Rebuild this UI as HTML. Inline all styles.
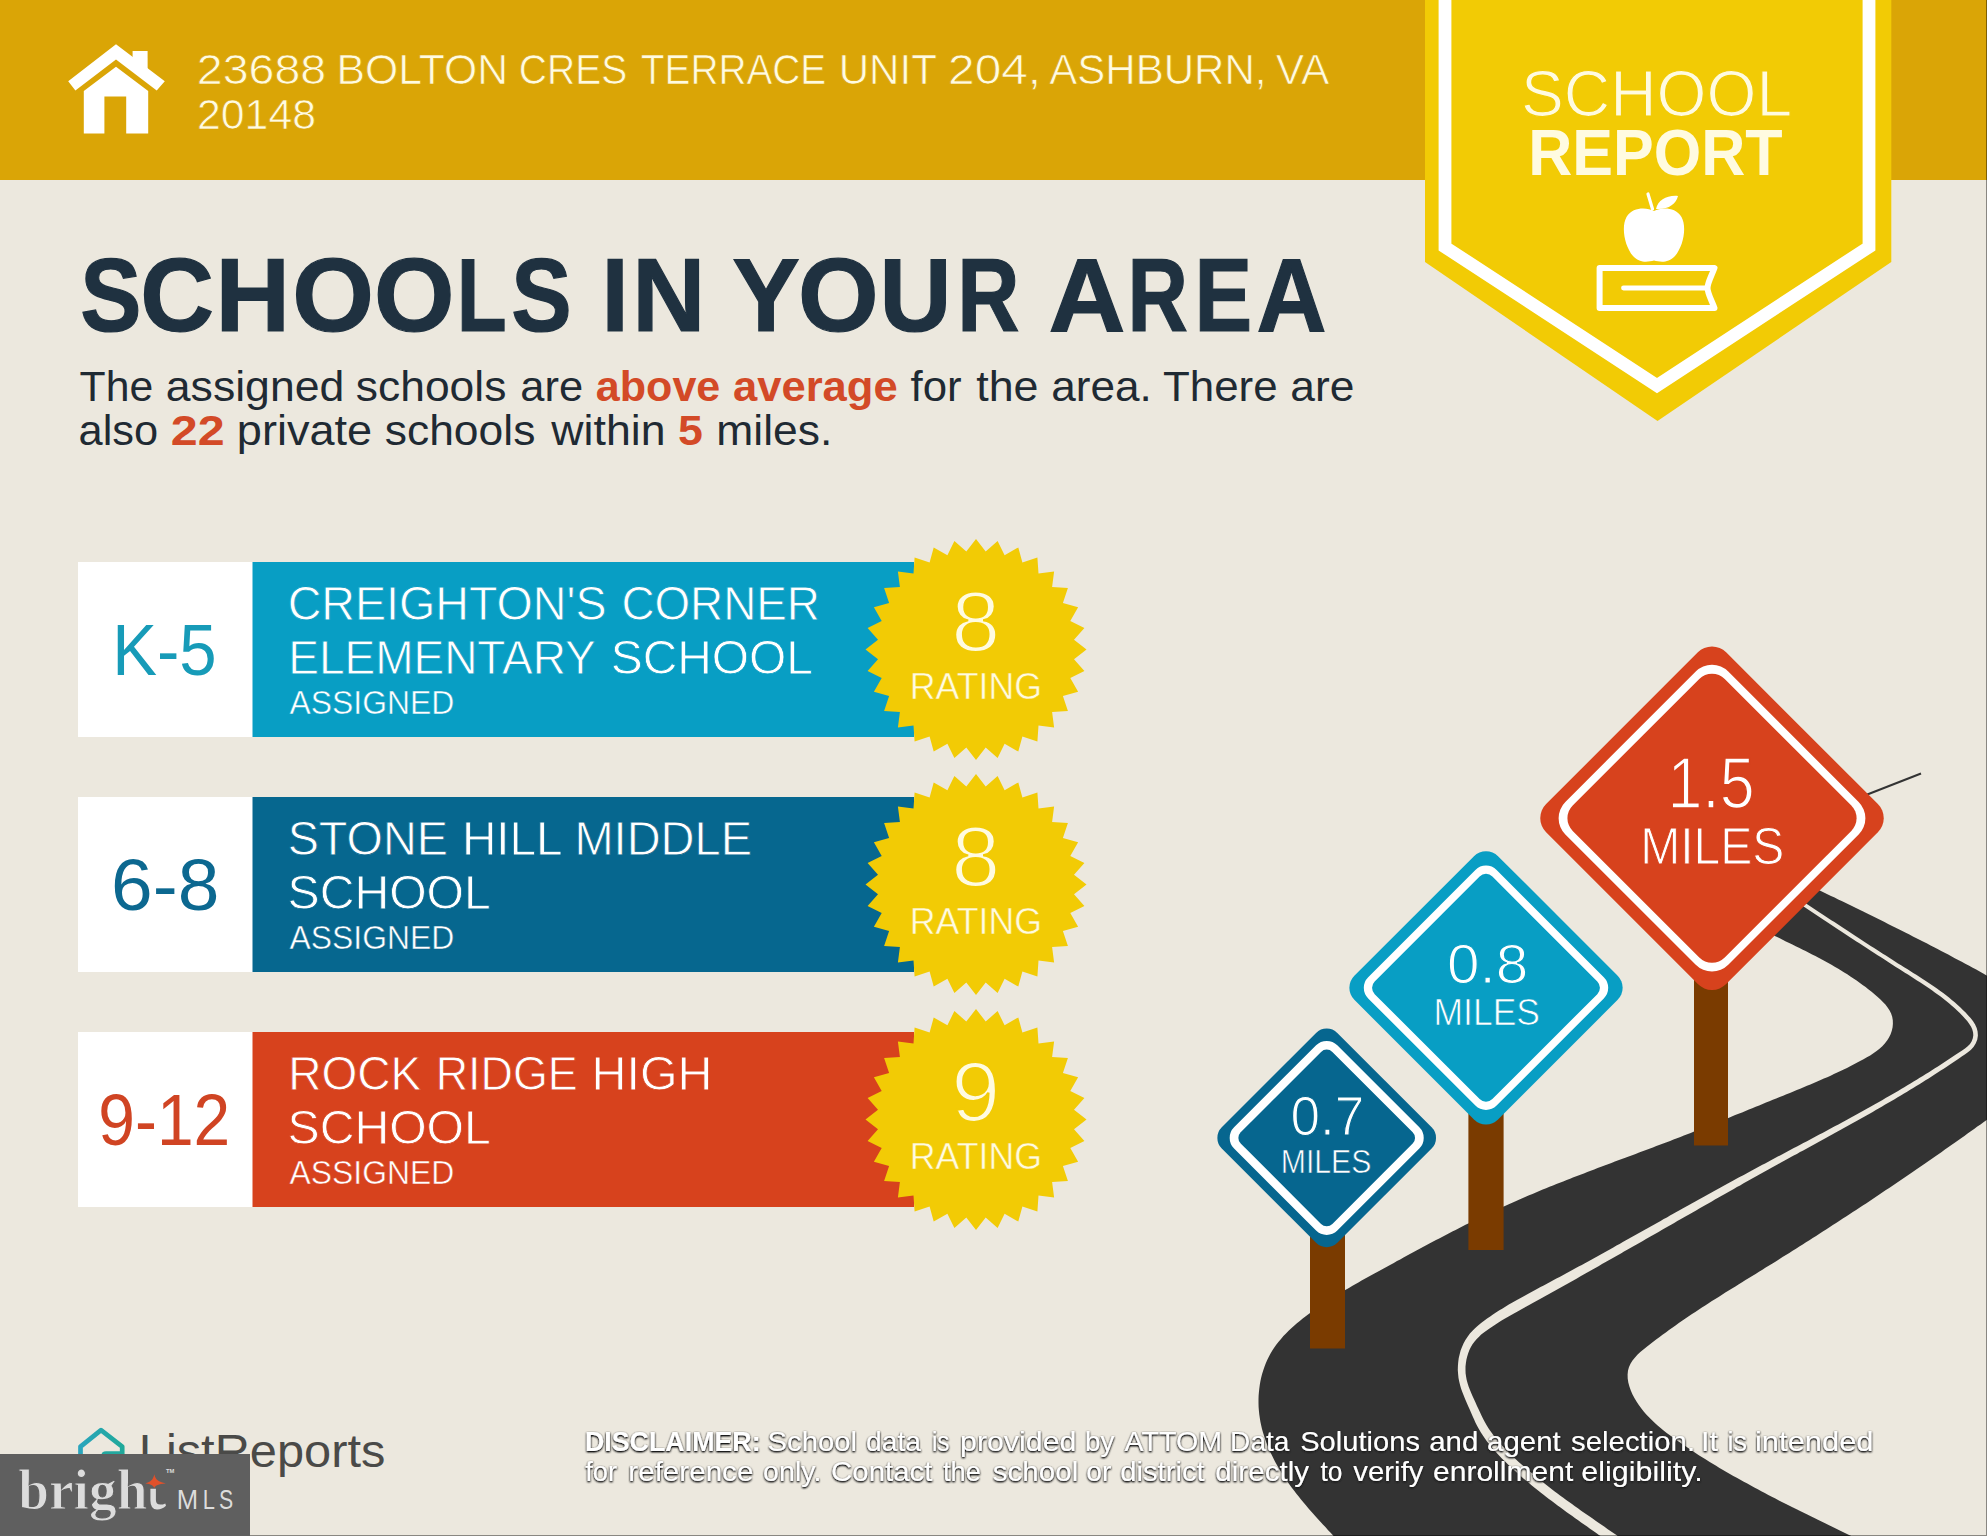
<!DOCTYPE html>
<html>
<head>
<meta charset="utf-8">
<title>School Report</title>
<style>
html,body{margin:0;padding:0;background:#ECE8DE;}
body{width:1987px;height:1536px;overflow:hidden;position:relative;font-family:"Liberation Sans",sans-serif;}
svg{position:absolute;left:0;top:0;display:block;}
text{font-family:"Liberation Sans",sans-serif;}
.serif{font-family:"Liberation Serif",serif;}
</style>
</head>
<body>
<svg width="1987" height="1536" viewBox="0 0 1987 1536">
<defs>
  <filter id="sh" x="-3%" y="-40%" width="106%" height="180%">
    <feGaussianBlur in="SourceAlpha" stdDeviation="1.25" result="b"/>
    <feOffset in="b" dx="0.4" dy="0.6" result="o"/>
    <feComponentTransfer in="o" result="g"><feFuncA type="linear" slope="1.55"/></feComponentTransfer>
    <feFlood flood-color="#1c1c1c" result="c"/>
    <feComposite in="c" in2="g" operator="in" result="s"/>
    <feMerge><feMergeNode in="s"/><feMergeNode in="SourceGraphic"/></feMerge>
  </filter>
  <linearGradient id="lrg" gradientUnits="userSpaceOnUse" x1="78" y1="0" x2="125" y2="0"><stop offset="0" stop-color="#2BA5BE"/><stop offset="1" stop-color="#1FA998"/></linearGradient>
</defs>

<!-- background -->
<rect x="0" y="0" width="1987" height="1536" fill="#ECE8DE"/>

<!-- header band -->
<rect x="0" y="0" width="1987" height="180" fill="#DAA506"/>

<!-- house icon -->
<g fill="#ffffff">
  <polygon points="116,44.2 164.8,81.2 156.7,90.5 116,59.5 75.4,90.5 68.2,81.2"/>
  <polygon points="132.6,51 147.6,51 147.6,70 132.6,58"/>
  <path d="M116,66.7 L148.2,91 L148.2,133.5 L126.2,133.5 L126.2,96.5 L104.4,96.5 L104.4,133.5 L83.8,133.5 L83.8,91 Z"/>
</g>


<!-- banner -->
<polygon points="1425,0 1891.3,0 1891.3,262 1657.5,421 1425,262" fill="#F2CB05"/>
<polyline points="1445,-10 1445,247 1657,385.5 1869,247 1869,-10" fill="none" stroke="#ffffff" stroke-width="12.8" stroke-linejoin="miter"/>
<!-- apple + book -->
<g fill="#ffffff" stroke="none">
  <path d="M1654,211 C1647,207.5 1633,206.5 1626.5,217 C1621,227 1624.5,246 1633,256 C1640,263.5 1648,262 1654,260.5 C1660,262 1668,263.5 1675,256 C1683.5,246 1687,227 1681.5,217 C1675,206.5 1661,207.5 1654,211 Z"/>
  <path d="M1656,209 C1658,200 1667,195 1678,196 C1676,204 1668,210 1656,209 Z"/>
</g>
<g fill="none" stroke="#ffffff">
  <path d="M1648,194 L1652.5,209" stroke-width="3.2" stroke-linecap="round"/>
  <path d="M1714.5,268 L1599.6,268 L1599.6,308 L1714.5,308 C1711,299 1707.5,293 1707.5,288 C1707.5,283 1711,277 1714.5,268 Z" stroke-width="6" stroke-linejoin="round"/>
  <path d="M1623.5,288 L1707,288" stroke-width="4.8" stroke-linecap="round"/>
</g>



<!-- cards -->
<g>
  <rect x="78" y="562" width="175" height="175" fill="#ffffff"/>
  <rect x="252.5" y="562" width="661.5" height="175" fill="#089EC4"/>
  <rect x="78" y="797" width="175" height="175" fill="#ffffff"/>
  <rect x="252.5" y="797" width="661.5" height="175" fill="#06678F"/>
  <rect x="78" y="1032" width="175" height="175" fill="#ffffff"/>
  <rect x="252.5" y="1032" width="661.5" height="175" fill="#D7421D"/>
</g>

<!-- rating badges -->
<polygon transform="translate(976,649.5)" points="110.5,0.0 98.0,9.7 108.4,21.6 94.3,28.6 102.1,42.3 86.9,46.4 91.9,61.4 76.1,62.5 78.1,78.1 62.5,76.1 61.4,91.9 46.4,86.9 42.3,102.1 28.6,94.3 21.6,108.4 9.7,98.0 0.0,110.5 -9.7,98.0 -21.6,108.4 -28.6,94.3 -42.3,102.1 -46.4,86.9 -61.4,91.9 -62.5,76.1 -78.1,78.1 -76.1,62.5 -91.9,61.4 -86.9,46.4 -102.1,42.3 -94.3,28.6 -108.4,21.6 -98.0,9.7 -110.5,0.0 -98.0,-9.7 -108.4,-21.6 -94.3,-28.6 -102.1,-42.3 -86.9,-46.4 -91.9,-61.4 -76.1,-62.5 -78.1,-78.1 -62.5,-76.1 -61.4,-91.9 -46.4,-86.9 -42.3,-102.1 -28.6,-94.3 -21.6,-108.4 -9.7,-98.0 -0.0,-110.5 9.7,-98.0 21.6,-108.4 28.6,-94.3 42.3,-102.1 46.4,-86.9 61.4,-91.9 62.5,-76.1 78.1,-78.1 76.1,-62.5 91.9,-61.4 86.9,-46.4 102.1,-42.3 94.3,-28.6 108.4,-21.6 98.0,-9.7" fill="#F2CB05"/>
<polygon transform="translate(976,884.5)" points="110.5,0.0 98.0,9.7 108.4,21.6 94.3,28.6 102.1,42.3 86.9,46.4 91.9,61.4 76.1,62.5 78.1,78.1 62.5,76.1 61.4,91.9 46.4,86.9 42.3,102.1 28.6,94.3 21.6,108.4 9.7,98.0 0.0,110.5 -9.7,98.0 -21.6,108.4 -28.6,94.3 -42.3,102.1 -46.4,86.9 -61.4,91.9 -62.5,76.1 -78.1,78.1 -76.1,62.5 -91.9,61.4 -86.9,46.4 -102.1,42.3 -94.3,28.6 -108.4,21.6 -98.0,9.7 -110.5,0.0 -98.0,-9.7 -108.4,-21.6 -94.3,-28.6 -102.1,-42.3 -86.9,-46.4 -91.9,-61.4 -76.1,-62.5 -78.1,-78.1 -62.5,-76.1 -61.4,-91.9 -46.4,-86.9 -42.3,-102.1 -28.6,-94.3 -21.6,-108.4 -9.7,-98.0 -0.0,-110.5 9.7,-98.0 21.6,-108.4 28.6,-94.3 42.3,-102.1 46.4,-86.9 61.4,-91.9 62.5,-76.1 78.1,-78.1 76.1,-62.5 91.9,-61.4 86.9,-46.4 102.1,-42.3 94.3,-28.6 108.4,-21.6 98.0,-9.7" fill="#F2CB05"/>
<polygon transform="translate(976,1119.5)" points="110.5,0.0 98.0,9.7 108.4,21.6 94.3,28.6 102.1,42.3 86.9,46.4 91.9,61.4 76.1,62.5 78.1,78.1 62.5,76.1 61.4,91.9 46.4,86.9 42.3,102.1 28.6,94.3 21.6,108.4 9.7,98.0 0.0,110.5 -9.7,98.0 -21.6,108.4 -28.6,94.3 -42.3,102.1 -46.4,86.9 -61.4,91.9 -62.5,76.1 -78.1,78.1 -76.1,62.5 -91.9,61.4 -86.9,46.4 -102.1,42.3 -94.3,28.6 -108.4,21.6 -98.0,9.7 -110.5,0.0 -98.0,-9.7 -108.4,-21.6 -94.3,-28.6 -102.1,-42.3 -86.9,-46.4 -91.9,-61.4 -76.1,-62.5 -78.1,-78.1 -62.5,-76.1 -61.4,-91.9 -46.4,-86.9 -42.3,-102.1 -28.6,-94.3 -21.6,-108.4 -9.7,-98.0 -0.0,-110.5 9.7,-98.0 21.6,-108.4 28.6,-94.3 42.3,-102.1 46.4,-86.9 61.4,-91.9 62.5,-76.1 78.1,-78.1 76.1,-62.5 91.9,-61.4 86.9,-46.4 102.1,-42.3 94.3,-28.6 108.4,-21.6 98.0,-9.7" fill="#F2CB05"/>

<!-- road -->
<path d="M1745.0,854.8 L1748.6,856.5 L1752.2,858.2 L1755.8,859.9 L1759.3,861.6 L1762.9,863.3 L1766.5,865.0 L1770.1,866.7 L1773.7,868.4 L1777.3,870.2 L1780.9,871.9 L1784.4,873.6 L1788.0,875.3 L1791.6,877.0 L1795.2,878.7 L1798.8,880.4 L1802.4,882.1 L1805.9,883.8 L1809.5,885.6 L1813.1,887.3 L1816.7,889.0 L1820.3,890.7 L1823.9,892.4 L1827.4,894.2 L1831.0,895.9 L1834.6,897.6 L1838.2,899.4 L1841.7,901.1 L1845.3,902.8 L1848.9,904.6 L1852.5,906.3 L1856.0,908.0 L1859.6,909.8 L1863.2,911.5 L1866.7,913.3 L1870.3,915.1 L1873.9,916.8 L1877.4,918.6 L1881.0,920.3 L1884.5,922.1 L1888.1,923.9 L1891.6,925.7 L1895.2,927.4 L1898.8,929.2 L1902.3,931.0 L1905.8,932.8 L1909.4,934.6 L1912.9,936.4 L1916.5,938.2 L1920.0,940.0 L1923.5,941.8 L1927.1,943.6 L1930.6,945.5 L1934.1,947.3 L1937.6,949.1 L1941.2,951.0 L1944.7,952.8 L1948.2,954.6 L1951.7,956.5 L1955.2,958.4 L1958.7,960.2 L1962.2,962.1 L1965.7,964.0 L1969.2,965.8 L1972.7,967.7 L1976.2,969.6 L1979.7,971.5 L1983.2,973.4 L1986.6,975.4 L1990.1,977.3 L1993.5,979.3 L1997.0,981.2 L2000.4,983.2 L2003.9,985.2 L2007.3,987.3 L2010.7,989.3 L2014.1,991.4 L2017.4,993.5 L2020.8,995.6 L2024.1,997.8 L2027.5,1000.0 L2030.7,1002.3 L2033.9,1004.6 L2037.1,1007.1 L2040.1,1009.6 L2043.1,1012.3 L2045.9,1015.2 L2048.7,1018.2 L2051.3,1021.4 L2053.7,1024.8 L2055.9,1028.3 L2057.9,1031.9 L2059.5,1035.6 L2060.7,1039.4 L2061.5,1043.3 L2061.8,1047.1 L2061.6,1050.9 L2060.8,1054.7 L2059.6,1058.4 L2057.9,1062.0 L2056.0,1065.6 L2053.7,1069.0 L2051.1,1072.3 L2048.4,1075.5 L2045.5,1078.4 L2042.5,1081.2 L2039.5,1083.9 L2036.3,1086.4 L2033.1,1088.8 L2029.9,1091.1 L2026.6,1093.3 L2023.2,1095.5 L2019.9,1097.7 L2016.6,1099.8 L2013.2,1102.0 L2009.9,1104.1 L2006.6,1106.3 L2003.3,1108.5 L2000.0,1110.8 L1996.8,1113.0 L1993.5,1115.3 L1990.2,1117.5 L1987.0,1119.8 L1983.8,1122.1 L1980.5,1124.4 L1977.3,1126.6 L1974.1,1128.9 L1970.8,1131.2 L1967.6,1133.6 L1964.4,1135.9 L1961.1,1138.2 L1957.9,1140.5 L1954.7,1142.8 L1951.4,1145.0 L1948.2,1147.3 L1944.9,1149.6 L1941.7,1151.9 L1938.4,1154.2 L1935.1,1156.5 L1931.9,1158.7 L1928.6,1161.0 L1925.4,1163.3 L1922.1,1165.5 L1918.8,1167.8 L1915.5,1170.0 L1912.3,1172.3 L1909.0,1174.5 L1905.7,1176.8 L1902.4,1179.0 L1899.1,1181.2 L1895.8,1183.5 L1892.5,1185.7 L1889.2,1187.9 L1885.9,1190.1 L1882.6,1192.3 L1879.3,1194.6 L1876.0,1196.8 L1872.7,1199.0 L1869.4,1201.2 L1866.1,1203.4 L1862.8,1205.6 L1859.4,1207.8 L1856.1,1209.9 L1852.8,1212.1 L1849.5,1214.3 L1846.1,1216.5 L1842.8,1218.6 L1839.5,1220.8 L1836.1,1223.0 L1832.8,1225.1 L1829.5,1227.3 L1826.1,1229.5 L1822.8,1231.6 L1819.4,1233.8 L1816.1,1235.9 L1812.7,1238.0 L1809.4,1240.2 L1806.0,1242.3 L1802.7,1244.4 L1799.3,1246.6 L1796.0,1248.7 L1792.6,1250.8 L1789.3,1252.9 L1785.9,1255.0 L1782.5,1257.1 L1779.2,1259.3 L1775.8,1261.4 L1772.5,1263.5 L1769.1,1265.5 L1765.7,1267.6 L1762.4,1269.7 L1759.0,1271.8 L1755.6,1273.9 L1752.2,1276.0 L1748.9,1278.0 L1745.5,1280.1 L1742.1,1282.2 L1738.8,1284.3 L1735.4,1286.4 L1732.0,1288.5 L1728.7,1290.6 L1725.3,1292.6 L1722.0,1294.8 L1718.6,1296.9 L1715.3,1299.0 L1711.9,1301.1 L1708.6,1303.2 L1705.2,1305.4 L1701.9,1307.6 L1698.6,1309.7 L1695.3,1311.9 L1692.0,1314.1 L1688.7,1316.3 L1685.4,1318.6 L1682.1,1320.8 L1678.8,1323.1 L1675.5,1325.4 L1672.3,1327.7 L1669.0,1330.0 L1665.8,1332.4 L1662.5,1334.8 L1659.3,1337.2 L1656.1,1339.6 L1652.9,1342.0 L1649.7,1344.5 L1646.5,1347.0 L1643.4,1349.5 L1640.3,1352.1 L1637.4,1354.8 L1634.8,1357.7 L1632.5,1360.6 L1630.5,1363.7 L1629.0,1367.1 L1628.0,1370.6 L1627.6,1374.4 L1627.7,1378.4 L1628.3,1382.4 L1629.4,1386.5 L1630.8,1390.4 L1632.4,1394.3 L1634.4,1398.0 L1636.5,1401.6 L1638.8,1405.0 L1641.2,1408.3 L1643.7,1411.4 L1646.3,1414.4 L1649.0,1417.3 L1651.8,1420.1 L1654.6,1422.8 L1657.6,1425.4 L1660.6,1428.0 L1663.6,1430.4 L1666.7,1432.9 L1669.9,1435.2 L1673.0,1437.5 L1676.2,1439.9 L1679.4,1442.1 L1682.7,1444.4 L1686.0,1446.6 L1689.2,1448.8 L1692.5,1451.0 L1695.9,1453.2 L1699.2,1455.4 L1702.6,1457.5 L1705.9,1459.6 L1709.3,1461.7 L1712.7,1463.8 L1716.1,1465.8 L1719.5,1467.9 L1723.0,1469.9 L1726.4,1471.9 L1729.9,1473.9 L1733.3,1475.9 L1736.8,1477.8 L1740.3,1479.8 L1743.8,1481.7 L1747.3,1483.6 L1750.8,1485.5 L1754.3,1487.4 L1757.8,1489.3 L1761.3,1491.2 L1764.8,1493.0 L1768.3,1494.9 L1771.8,1496.7 L1775.4,1498.5 L1778.9,1500.4 L1782.4,1502.2 L1786.0,1504.0 L1789.5,1505.7 L1793.0,1507.5 L1796.6,1509.3 L1800.1,1511.1 L1803.7,1512.8 L1807.3,1514.6 L1810.8,1516.3 L1814.4,1518.1 L1817.9,1519.8 L1821.5,1521.6 L1825.1,1523.3 L1828.6,1525.0 L1832.2,1526.8 L1835.8,1528.5 L1839.3,1530.2 L1842.9,1532.0 L1846.5,1533.7 L1850.1,1535.4 L1853.6,1537.2 L1857.2,1538.9 L1860.8,1540.6 L1864.3,1542.4 L1867.9,1544.1 L1871.5,1545.9 L1875.1,1547.6 L1878.6,1549.4 L1882.2,1551.1 L1885.8,1552.9 L1889.3,1554.7 L1892.9,1556.4 L1896.4,1558.2 L1900.0,1560.0 L1355.1,1559.9 L1352.7,1557.1 L1350.3,1554.4 L1347.8,1551.6 L1345.4,1548.9 L1342.9,1546.2 L1340.4,1543.4 L1337.9,1540.7 L1335.4,1538.0 L1332.9,1535.3 L1330.4,1532.6 L1327.9,1529.9 L1325.4,1527.1 L1322.9,1524.4 L1320.4,1521.7 L1317.9,1519.0 L1315.4,1516.2 L1313.0,1513.5 L1310.5,1510.7 L1308.1,1507.9 L1305.7,1505.1 L1303.3,1502.3 L1301.0,1499.5 L1298.7,1496.6 L1296.4,1493.7 L1294.2,1490.8 L1292.0,1487.9 L1289.8,1484.9 L1287.7,1481.9 L1285.6,1478.9 L1283.6,1475.8 L1281.6,1472.7 L1279.6,1469.6 L1277.8,1466.4 L1275.9,1463.2 L1274.2,1459.9 L1272.5,1456.6 L1270.9,1453.3 L1269.4,1449.9 L1267.9,1446.5 L1266.5,1443.0 L1265.3,1439.6 L1264.1,1436.1 L1263.0,1432.5 L1262.0,1429.0 L1261.2,1425.4 L1260.4,1421.8 L1259.8,1418.1 L1259.3,1414.5 L1258.9,1410.8 L1258.6,1407.1 L1258.5,1403.3 L1258.5,1399.6 L1258.6,1395.9 L1258.9,1392.2 L1259.3,1388.5 L1259.8,1384.8 L1260.4,1381.2 L1261.2,1377.6 L1262.1,1374.0 L1263.2,1370.5 L1264.4,1367.0 L1265.7,1363.6 L1267.1,1360.2 L1268.7,1357.0 L1270.4,1353.7 L1272.3,1350.6 L1274.3,1347.6 L1276.4,1344.6 L1278.6,1341.7 L1281.0,1338.9 L1283.4,1336.1 L1286.0,1333.4 L1288.6,1330.8 L1291.3,1328.3 L1294.1,1325.8 L1296.9,1323.3 L1299.8,1320.9 L1302.7,1318.6 L1305.7,1316.3 L1308.7,1314.1 L1311.7,1311.8 L1314.7,1309.7 L1317.7,1307.6 L1320.8,1305.5 L1323.9,1303.4 L1327.0,1301.4 L1330.1,1299.4 L1333.2,1297.4 L1336.3,1295.5 L1339.4,1293.5 L1342.6,1291.6 L1345.7,1289.8 L1348.9,1287.9 L1352.1,1286.1 L1355.2,1284.2 L1358.4,1282.4 L1361.6,1280.6 L1364.8,1278.8 L1368.0,1277.0 L1371.2,1275.3 L1374.4,1273.5 L1377.7,1271.7 L1380.9,1270.0 L1384.1,1268.2 L1387.3,1266.4 L1390.5,1264.7 L1393.8,1262.9 L1397.0,1261.1 L1400.2,1259.4 L1403.5,1257.6 L1406.7,1255.8 L1409.9,1254.1 L1413.2,1252.3 L1416.4,1250.6 L1419.7,1248.8 L1422.9,1247.1 L1426.2,1245.3 L1429.4,1243.6 L1432.7,1241.8 L1436.0,1240.1 L1439.2,1238.4 L1442.5,1236.7 L1445.8,1235.0 L1449.1,1233.2 L1452.3,1231.6 L1455.6,1229.9 L1458.9,1228.2 L1462.2,1226.5 L1465.5,1224.8 L1468.8,1223.2 L1472.1,1221.5 L1475.4,1219.9 L1478.7,1218.3 L1482.1,1216.7 L1485.4,1215.1 L1488.7,1213.5 L1492.1,1211.9 L1495.4,1210.3 L1498.8,1208.8 L1502.1,1207.2 L1505.5,1205.7 L1508.8,1204.2 L1512.2,1202.7 L1515.6,1201.2 L1518.9,1199.7 L1522.3,1198.2 L1525.7,1196.8 L1529.1,1195.3 L1532.5,1193.9 L1535.9,1192.5 L1539.3,1191.0 L1542.7,1189.6 L1546.1,1188.2 L1549.5,1186.8 L1553.0,1185.5 L1556.4,1184.1 L1559.8,1182.7 L1563.2,1181.4 L1566.7,1180.0 L1570.1,1178.7 L1573.5,1177.3 L1577.0,1176.0 L1580.4,1174.7 L1583.9,1173.4 L1587.3,1172.0 L1590.7,1170.7 L1594.2,1169.4 L1597.6,1168.1 L1601.1,1166.8 L1604.5,1165.5 L1608.0,1164.2 L1611.4,1162.9 L1614.9,1161.6 L1618.3,1160.3 L1621.8,1159.1 L1625.3,1157.8 L1628.7,1156.5 L1632.2,1155.2 L1635.6,1153.9 L1639.1,1152.6 L1642.5,1151.3 L1646.0,1150.0 L1649.4,1148.7 L1652.9,1147.4 L1656.3,1146.1 L1659.8,1144.8 L1663.2,1143.5 L1666.7,1142.2 L1670.1,1140.9 L1673.5,1139.6 L1677.0,1138.2 L1680.4,1136.9 L1683.9,1135.6 L1687.3,1134.2 L1690.7,1132.9 L1694.1,1131.5 L1697.6,1130.2 L1701.0,1128.8 L1704.4,1127.5 L1707.9,1126.1 L1711.3,1124.8 L1714.7,1123.4 L1718.1,1122.0 L1721.5,1120.6 L1725.0,1119.3 L1728.4,1117.9 L1731.8,1116.5 L1735.2,1115.1 L1738.6,1113.8 L1742.1,1112.4 L1745.5,1111.0 L1748.9,1109.6 L1752.3,1108.2 L1755.7,1106.8 L1759.2,1105.4 L1762.6,1104.0 L1766.0,1102.6 L1769.4,1101.2 L1772.8,1099.8 L1776.2,1098.4 L1779.7,1097.0 L1783.1,1095.7 L1786.5,1094.3 L1789.9,1092.9 L1793.4,1091.5 L1796.8,1090.1 L1800.2,1088.7 L1803.6,1087.3 L1807.0,1085.8 L1810.4,1084.4 L1813.8,1083.0 L1817.2,1081.5 L1820.6,1080.1 L1823.9,1078.6 L1827.3,1077.2 L1830.6,1075.7 L1833.9,1074.1 L1837.2,1072.6 L1840.5,1071.0 L1843.7,1069.5 L1847.0,1067.9 L1850.2,1066.2 L1853.5,1064.5 L1856.8,1062.8 L1860.1,1061.1 L1863.5,1059.2 L1866.9,1057.3 L1870.2,1055.4 L1873.4,1053.3 L1876.6,1051.1 L1879.5,1048.7 L1882.3,1046.2 L1884.8,1043.5 L1887.1,1040.6 L1889.0,1037.5 L1890.6,1034.2 L1891.8,1030.8 L1892.6,1027.3 L1892.9,1023.7 L1892.8,1020.2 L1892.2,1016.8 L1891.1,1013.6 L1889.6,1010.5 L1887.6,1007.5 L1885.4,1004.6 L1882.9,1001.9 L1880.2,999.3 L1877.4,996.7 L1874.5,994.2 L1871.6,991.8 L1868.6,989.4 L1865.6,987.1 L1862.6,984.9 L1859.6,982.7 L1856.6,980.5 L1853.5,978.4 L1850.4,976.4 L1847.3,974.3 L1844.2,972.4 L1841.1,970.4 L1837.9,968.5 L1834.7,966.7 L1831.5,964.8 L1828.3,963.0 L1825.1,961.3 L1821.9,959.5 L1818.6,957.8 L1815.4,956.1 L1812.1,954.4 L1808.9,952.7 L1805.6,951.1 L1802.3,949.5 L1799.0,947.8 L1795.7,946.2 L1792.4,944.6 L1789.2,943.0 L1785.9,941.4 L1782.6,939.7 L1779.3,938.1 L1776.0,936.5 L1772.7,934.9 L1769.4,933.2 L1766.1,931.6 L1762.8,929.9 L1759.6,928.2 L1756.3,926.5 L1753.1,924.8 L1749.8,923.0 L1746.6,921.2 L1743.4,919.4 L1740.1,917.6 L1736.9,915.7 L1733.8,913.8 L1730.6,911.9 L1727.4,909.9 L1724.3,907.9 L1721.2,905.8 L1718.1,903.7 L1715.0,901.5 Z" fill="#333333"/>
<path d="M1769.0,883.6 L1772.0,885.6 L1775.0,887.6 L1778.0,889.6 L1781.0,891.5 L1784.0,893.5 L1787.0,895.5 L1790.0,897.5 L1793.0,899.5 L1796.0,901.5 L1799.0,903.4 L1802.0,905.4 L1805.1,907.4 L1808.1,909.4 L1811.1,911.4 L1814.1,913.4 L1817.1,915.4 L1820.1,917.4 L1823.1,919.4 L1826.2,921.4 L1829.2,923.4 L1832.2,925.4 L1835.2,927.4 L1838.2,929.4 L1841.3,931.4 L1844.3,933.4 L1847.3,935.4 L1850.3,937.4 L1853.4,939.4 L1856.4,941.4 L1859.4,943.3 L1862.4,945.3 L1865.5,947.3 L1868.5,949.3 L1871.5,951.2 L1874.6,953.2 L1877.6,955.2 L1880.6,957.1 L1883.7,959.1 L1886.7,961.0 L1889.7,963.0 L1892.8,964.9 L1895.8,966.9 L1898.8,968.8 L1901.9,970.7 L1904.9,972.7 L1908.0,974.6 L1911.0,976.5 L1914.0,978.4 L1917.0,980.4 L1920.0,982.3 L1923.0,984.3 L1926.0,986.2 L1929.0,988.2 L1931.9,990.3 L1934.8,992.4 L1937.7,994.5 L1940.6,996.6 L1943.4,998.8 L1946.2,1001.0 L1949.0,1003.3 L1951.8,1005.7 L1954.5,1008.1 L1957.1,1010.6 L1959.8,1013.1 L1962.4,1015.7 L1964.9,1018.4 L1967.2,1021.1 L1969.3,1023.9 L1971.1,1026.7 L1972.3,1029.5 L1973.1,1032.4 L1973.3,1035.2 L1972.8,1038.2 L1971.7,1041.2 L1970.0,1043.9 L1967.7,1046.3 L1965.0,1048.5 L1962.1,1050.5 L1959.0,1052.6 L1955.9,1054.6 L1952.9,1056.6 L1949.9,1058.6 L1946.9,1060.6 L1943.9,1062.5 L1940.9,1064.5 L1937.9,1066.4 L1934.9,1068.3 L1931.9,1070.2 L1928.9,1072.2 L1925.8,1074.1 L1922.8,1076.0 L1919.7,1077.8 L1916.7,1079.7 L1913.6,1081.6 L1910.5,1083.5 L1907.4,1085.3 L1904.3,1087.2 L1901.2,1089.0 L1898.1,1090.9 L1895.0,1092.7 L1891.9,1094.5 L1888.8,1096.3 L1885.6,1098.1 L1882.5,1099.9 L1879.4,1101.7 L1876.2,1103.5 L1873.1,1105.3 L1870.0,1107.0 L1866.8,1108.8 L1863.7,1110.5 L1860.5,1112.3 L1857.4,1114.0 L1854.2,1115.8 L1851.0,1117.5 L1847.9,1119.3 L1844.7,1121.0 L1841.5,1122.7 L1838.4,1124.4 L1835.2,1126.1 L1832.0,1127.8 L1828.8,1129.5 L1825.7,1131.2 L1822.5,1132.9 L1819.3,1134.6 L1816.1,1136.3 L1812.9,1138.0 L1809.7,1139.7 L1806.5,1141.4 L1803.3,1143.1 L1800.2,1144.8 L1797.0,1146.5 L1793.8,1148.1 L1790.6,1149.8 L1787.4,1151.5 L1784.2,1153.2 L1781.0,1154.9 L1777.8,1156.6 L1774.6,1158.3 L1771.4,1160.0 L1768.3,1161.7 L1765.1,1163.4 L1761.9,1165.1 L1758.7,1166.8 L1755.5,1168.5 L1752.3,1170.2 L1749.1,1172.0 L1746.0,1173.7 L1742.8,1175.4 L1739.6,1177.1 L1736.4,1178.8 L1733.3,1180.6 L1730.1,1182.3 L1726.9,1184.0 L1723.7,1185.8 L1720.6,1187.5 L1717.4,1189.2 L1714.2,1191.0 L1711.1,1192.7 L1707.9,1194.5 L1704.8,1196.2 L1701.6,1198.0 L1698.4,1199.7 L1695.3,1201.5 L1692.1,1203.2 L1689.0,1205.0 L1685.8,1206.8 L1682.6,1208.5 L1679.5,1210.3 L1676.3,1212.1 L1673.2,1213.8 L1670.0,1215.6 L1666.9,1217.4 L1663.7,1219.1 L1660.6,1220.9 L1657.4,1222.7 L1654.3,1224.4 L1651.1,1226.2 L1648.0,1228.0 L1644.8,1229.7 L1641.7,1231.5 L1638.5,1233.3 L1635.4,1235.0 L1632.2,1236.8 L1629.1,1238.6 L1625.9,1240.3 L1622.8,1242.1 L1619.6,1243.9 L1616.5,1245.6 L1613.3,1247.4 L1610.2,1249.2 L1607.0,1250.9 L1603.9,1252.7 L1600.7,1254.4 L1597.6,1256.2 L1594.4,1257.9 L1591.3,1259.7 L1588.1,1261.4 L1584.9,1263.2 L1581.8,1264.9 L1578.6,1266.6 L1575.4,1268.3 L1572.3,1270.1 L1569.1,1271.8 L1565.9,1273.5 L1562.8,1275.2 L1559.6,1276.9 L1556.4,1278.6 L1553.2,1280.3 L1550.1,1282.0 L1546.9,1283.7 L1543.7,1285.4 L1540.5,1287.1 L1537.4,1288.8 L1534.2,1290.5 L1531.0,1292.2 L1527.8,1293.9 L1524.7,1295.7 L1521.5,1297.4 L1518.3,1299.2 L1515.1,1300.9 L1512.0,1302.7 L1508.8,1304.6 L1505.7,1306.5 L1502.6,1308.4 L1499.4,1310.3 L1496.3,1312.3 L1493.3,1314.3 L1490.2,1316.4 L1487.1,1318.5 L1484.1,1320.7 L1481.1,1323.0 L1478.1,1325.4 L1475.3,1328.0 L1472.5,1330.7 L1469.9,1333.6 L1467.6,1336.7 L1465.4,1339.9 L1463.5,1343.4 L1462.0,1346.9 L1460.6,1350.6 L1459.6,1354.4 L1458.7,1358.3 L1458.2,1362.2 L1457.9,1366.2 L1457.8,1370.1 L1458.1,1374.0 L1458.5,1377.9 L1459.2,1381.6 L1460.1,1385.3 L1461.2,1388.9 L1462.5,1392.4 L1463.8,1395.8 L1465.2,1399.2 L1466.6,1402.6 L1468.1,1405.9 L1469.6,1409.2 L1471.0,1412.5 L1472.5,1415.9 L1474.0,1419.3 L1475.5,1422.7 L1477.2,1426.0 L1479.0,1429.3 L1480.9,1432.5 L1482.9,1435.6 L1485.1,1438.7 L1487.2,1441.7 L1489.5,1444.6 L1491.9,1447.5 L1494.3,1450.3 L1496.8,1453.1 L1499.3,1455.8 L1501.9,1458.4 L1504.5,1461.1 L1507.1,1463.6 L1509.8,1466.2 L1512.5,1468.7 L1515.2,1471.1 L1517.9,1473.6 L1520.7,1476.0 L1523.4,1478.4 L1526.2,1480.7 L1529.0,1483.1 L1531.8,1485.4 L1534.6,1487.7 L1537.5,1490.0 L1540.3,1492.2 L1543.2,1494.5 L1546.0,1496.7 L1548.9,1498.9 L1551.8,1501.1 L1554.7,1503.3 L1557.6,1505.5 L1560.5,1507.6 L1563.5,1509.8 L1566.4,1511.9 L1569.3,1514.0 L1572.3,1516.1 L1575.2,1518.2 L1578.2,1520.3 L1581.1,1522.4 L1584.1,1524.5 L1587.1,1526.6 L1590.0,1528.7 L1593.0,1530.7 L1595.9,1532.8 L1598.9,1534.9 L1601.9,1536.9 L1604.8,1539.0 L1607.8,1541.1 L1610.7,1543.2 L1613.7,1545.2 L1616.6,1547.3 L1619.5,1549.4 L1622.5,1551.5 L1625.4,1553.6 L1628.3,1555.7 L1631.2,1557.8 L1634.1,1560.0 L1637.0,1562.1 L1642.9,1554.0 L1640.0,1551.9 L1637.1,1549.8 L1634.1,1547.6 L1631.2,1545.5 L1628.2,1543.4 L1625.3,1541.3 L1622.3,1539.3 L1619.3,1537.2 L1616.4,1535.1 L1613.4,1533.0 L1610.4,1531.0 L1607.4,1528.9 L1604.5,1526.8 L1601.5,1524.8 L1598.5,1522.7 L1595.6,1520.7 L1592.6,1518.6 L1589.7,1516.6 L1586.7,1514.5 L1583.7,1512.4 L1580.8,1510.4 L1577.9,1508.3 L1574.9,1506.2 L1572.0,1504.1 L1569.1,1502.0 L1566.2,1499.9 L1563.3,1497.8 L1560.4,1495.7 L1557.5,1493.5 L1554.7,1491.4 L1551.8,1489.2 L1549.0,1487.0 L1546.1,1484.8 L1543.3,1482.6 L1540.5,1480.4 L1537.7,1478.2 L1534.9,1475.9 L1532.2,1473.6 L1529.4,1471.3 L1526.7,1469.0 L1524.0,1466.6 L1521.3,1464.3 L1518.7,1461.9 L1516.0,1459.5 L1513.4,1457.0 L1510.8,1454.6 L1508.3,1452.1 L1505.8,1449.5 L1503.4,1447.0 L1501.0,1444.4 L1498.7,1441.8 L1496.4,1439.1 L1494.3,1436.4 L1492.2,1433.6 L1490.2,1430.8 L1488.3,1427.9 L1486.5,1424.9 L1484.8,1421.9 L1483.2,1418.9 L1481.6,1415.7 L1480.1,1412.5 L1478.6,1409.2 L1477.0,1405.9 L1475.5,1402.6 L1474.0,1399.3 L1472.5,1396.1 L1471.1,1392.8 L1469.8,1389.6 L1468.6,1386.4 L1467.6,1383.2 L1466.7,1379.9 L1466.1,1376.7 L1465.6,1373.3 L1465.5,1370.0 L1465.5,1366.5 L1465.9,1363.1 L1466.4,1359.7 L1467.2,1356.4 L1468.2,1353.2 L1469.4,1350.1 L1470.9,1347.1 L1472.5,1344.3 L1474.4,1341.7 L1476.5,1339.2 L1478.8,1336.9 L1481.2,1334.6 L1483.9,1332.5 L1486.7,1330.4 L1489.5,1328.4 L1492.5,1326.4 L1495.5,1324.4 L1498.5,1322.5 L1501.6,1320.6 L1504.6,1318.8 L1507.7,1317.0 L1510.8,1315.2 L1513.9,1313.4 L1517.1,1311.7 L1520.2,1309.9 L1523.3,1308.2 L1526.4,1306.4 L1529.6,1304.7 L1532.7,1303.0 L1535.9,1301.3 L1539.1,1299.6 L1542.3,1297.8 L1545.4,1296.1 L1548.6,1294.3 L1551.7,1292.6 L1554.9,1290.8 L1558.0,1289.0 L1561.2,1287.3 L1564.3,1285.5 L1567.5,1283.7 L1570.6,1282.0 L1573.8,1280.2 L1576.9,1278.4 L1580.1,1276.6 L1583.2,1274.8 L1586.3,1273.1 L1589.5,1271.3 L1592.6,1269.5 L1595.8,1267.7 L1598.9,1265.9 L1602.0,1264.1 L1605.2,1262.3 L1608.3,1260.6 L1611.5,1258.8 L1614.6,1257.0 L1617.7,1255.2 L1620.9,1253.4 L1624.0,1251.6 L1627.2,1249.8 L1630.3,1248.0 L1633.4,1246.3 L1636.6,1244.5 L1639.7,1242.7 L1642.8,1240.9 L1646.0,1239.1 L1649.1,1237.3 L1652.2,1235.5 L1655.4,1233.7 L1658.5,1231.9 L1661.7,1230.1 L1664.8,1228.3 L1667.9,1226.5 L1671.1,1224.7 L1674.2,1222.9 L1677.3,1221.1 L1680.5,1219.3 L1683.6,1217.5 L1686.7,1215.8 L1689.9,1214.0 L1693.0,1212.2 L1696.1,1210.4 L1699.3,1208.6 L1702.4,1206.8 L1705.5,1205.0 L1708.7,1203.2 L1711.8,1201.4 L1714.9,1199.6 L1718.1,1197.8 L1721.2,1196.0 L1724.4,1194.3 L1727.5,1192.5 L1730.6,1190.7 L1733.8,1188.9 L1736.9,1187.1 L1740.1,1185.4 L1743.2,1183.6 L1746.3,1181.8 L1749.5,1180.1 L1752.6,1178.3 L1755.8,1176.5 L1758.9,1174.8 L1762.1,1173.0 L1765.2,1171.3 L1768.4,1169.5 L1771.5,1167.8 L1774.7,1166.0 L1777.9,1164.3 L1781.0,1162.5 L1784.2,1160.8 L1787.4,1159.1 L1790.5,1157.3 L1793.7,1155.6 L1796.9,1153.9 L1800.0,1152.1 L1803.2,1150.4 L1806.4,1148.7 L1809.5,1146.9 L1812.7,1145.2 L1815.9,1143.5 L1819.0,1141.7 L1822.2,1140.0 L1825.4,1138.3 L1828.5,1136.5 L1831.7,1134.8 L1834.8,1133.0 L1838.0,1131.3 L1841.2,1129.5 L1844.3,1127.8 L1847.5,1126.0 L1850.6,1124.3 L1853.8,1122.5 L1857.0,1120.8 L1860.1,1119.0 L1863.3,1117.2 L1866.4,1115.4 L1869.6,1113.7 L1872.7,1111.9 L1875.8,1110.1 L1879.0,1108.3 L1882.1,1106.5 L1885.2,1104.6 L1888.4,1102.8 L1891.5,1101.0 L1894.6,1099.2 L1897.7,1097.3 L1900.8,1095.5 L1904.0,1093.6 L1907.1,1091.7 L1910.1,1089.8 L1913.2,1088.0 L1916.3,1086.1 L1919.4,1084.2 L1922.5,1082.2 L1925.5,1080.3 L1928.6,1078.4 L1931.6,1076.5 L1934.6,1074.5 L1937.7,1072.6 L1940.7,1070.6 L1943.7,1068.7 L1946.7,1066.7 L1949.6,1064.7 L1952.6,1062.7 L1955.6,1060.7 L1958.6,1058.7 L1961.7,1056.6 L1964.8,1054.5 L1967.9,1052.3 L1971.0,1049.8 L1973.7,1046.8 L1975.8,1043.2 L1977.3,1039.4 L1977.9,1035.5 L1977.6,1031.6 L1976.7,1028.0 L1975.1,1024.6 L1973.1,1021.3 L1970.8,1018.3 L1968.2,1015.4 L1965.6,1012.6 L1962.9,1009.9 L1960.2,1007.3 L1957.4,1004.8 L1954.7,1002.3 L1951.8,999.9 L1949.0,997.6 L1946.1,995.3 L1943.2,993.1 L1940.3,991.0 L1937.3,988.8 L1934.4,986.7 L1931.4,984.7 L1928.4,982.7 L1925.4,980.7 L1922.3,978.7 L1919.3,976.8 L1916.3,974.8 L1913.2,972.9 L1910.2,971.0 L1907.2,969.1 L1904.1,967.2 L1901.1,965.3 L1898.0,963.4 L1895.0,961.4 L1892.0,959.5 L1888.9,957.6 L1885.9,955.6 L1882.8,953.7 L1879.8,951.7 L1876.8,949.8 L1873.7,947.8 L1870.7,945.9 L1867.7,943.9 L1864.6,941.9 L1861.6,940.0 L1858.6,938.0 L1855.5,936.0 L1852.5,934.0 L1849.5,932.1 L1846.5,930.1 L1843.4,928.1 L1840.4,926.1 L1837.4,924.1 L1834.4,922.1 L1831.3,920.2 L1828.3,918.2 L1825.3,916.2 L1822.3,914.2 L1819.2,912.2 L1816.2,910.2 L1813.2,908.2 L1810.2,906.2 L1807.2,904.3 L1804.1,902.3 L1801.1,900.3 L1798.1,898.3 L1795.1,896.3 L1792.1,894.3 L1789.1,892.3 L1786.1,890.3 L1783.1,888.4 L1780.1,886.4 L1777.0,884.4 L1774.0,882.4 L1771.0,880.5 Z" fill="#ECE8DE"/>

<!-- thin line right of red sign -->
<path d="M1866,795 L1921,773.5" stroke="#333333" stroke-width="2" fill="none"/>

<!-- posts -->
<g fill="#7A3B00">
  <rect x="1694" y="970" width="34" height="175.5"/>
  <rect x="1468.4" y="1100" width="35.2" height="150"/>
  <rect x="1310" y="1230" width="35" height="118.5"/>
</g>

<!-- signs -->
<g transform="translate(1712,818.2) rotate(45)">
  <rect x="-127.3" y="-127.3" width="254.6" height="254.6" rx="20" fill="#D7421D"/>
  <rect x="-115.2" y="-115.2" width="230.4" height="230.4" rx="23" fill="#ffffff"/>
  <rect x="-107.5" y="-107.5" width="215" height="215" rx="18" fill="#D7421D"/>
</g>
<g transform="translate(1486,987.8) rotate(45)">
  <rect x="-101.6" y="-101.6" width="203.2" height="203.2" rx="17" fill="#089EC4"/>
  <rect x="-90.8" y="-90.8" width="181.6" height="181.6" rx="15" fill="#ffffff"/>
  <rect x="-83.2" y="-83.2" width="166.4" height="166.4" rx="9" fill="#089EC4"/>
</g>
<g transform="translate(1326.7,1137.9) rotate(45)">
  <rect x="-81.7" y="-81.7" width="163.4" height="163.4" rx="15" fill="#06668F"/>
  <rect x="-73" y="-73" width="146" height="146" rx="15" fill="#ffffff"/>
  <rect x="-64.8" y="-64.8" width="129.6" height="129.6" rx="8" fill="#06668F"/>
</g>

<!-- ListReports logo -->
<path d="M80.5,1470 L80.5,1446.6 L101,1430.2 L122.2,1446.6 L122.2,1470" fill="none" stroke="url(#lrg)" stroke-width="4.7" stroke-linejoin="round"/>
<path d="M101.5,1458 L101.5,1455 Q101.5,1451.3 106,1451.3 L121,1451.3 L121,1458 Z" fill="#23A79E"/>
<!-- all positioned text -->
<text y="84.2" font-size="42.5"><tspan x="196.81" textLength="129.38" lengthAdjust="spacingAndGlyphs" fill="#FFFBE0" stroke="#DAA506" stroke-width="0.7">23688</tspan> <tspan x="336.48" textLength="171.72" lengthAdjust="spacingAndGlyphs" fill="#FFFBE0" stroke="#DAA506" stroke-width="0.7">BOLTON</tspan> <tspan x="518.76" textLength="108.47" lengthAdjust="spacingAndGlyphs" fill="#FFFBE0" stroke="#DAA506" stroke-width="0.7">CRES</tspan> <tspan x="640.80" textLength="185.43" lengthAdjust="spacingAndGlyphs" fill="#FFFBE0" stroke="#DAA506" stroke-width="0.7">TERRACE</tspan> <tspan x="838.65" textLength="97.49" lengthAdjust="spacingAndGlyphs" fill="#FFFBE0" stroke="#DAA506" stroke-width="0.7">UNIT</tspan> <tspan x="948.05" textLength="93.03" lengthAdjust="spacingAndGlyphs" fill="#FFFBE0" stroke="#DAA506" stroke-width="0.7">204,</tspan> <tspan x="1049.30" textLength="217.17" lengthAdjust="spacingAndGlyphs" fill="#FFFBE0" stroke="#DAA506" stroke-width="0.7">ASHBURN,</tspan> <tspan x="1275.80" textLength="53.65" lengthAdjust="spacingAndGlyphs" fill="#FFFBE0" stroke="#DAA506" stroke-width="0.7">VA</tspan></text>
<text y="128.7" font-size="42.5"><tspan x="196.99" textLength="119.06" lengthAdjust="spacingAndGlyphs" fill="#FFFBE0" stroke="#DAA506" stroke-width="0.7">20148</tspan></text>
<text y="116.0" font-size="65"><tspan x="1521.02" textLength="271.10" lengthAdjust="spacingAndGlyphs" fill="#FFFBE0" stroke="#F2CB05" stroke-width="1.2">SCHOOL</tspan></text>
<text y="174.8" font-size="64"><tspan x="1528.18" textLength="254.41" lengthAdjust="spacingAndGlyphs" fill="#FFFBE0" font-weight="bold">REPORT</tspan></text>
<text y="331.4" font-size="103"><tspan x="80.22" textLength="61.18" lengthAdjust="spacingAndGlyphs" fill="#1F3140" font-weight="bold" stroke="#1F3140" stroke-width="1.2">S</tspan><tspan x="140.23" textLength="73.84" lengthAdjust="spacingAndGlyphs" fill="#1F3140" font-weight="bold" stroke="#1F3140" stroke-width="1.2">C</tspan><tspan x="215.59" textLength="74.50" lengthAdjust="spacingAndGlyphs" fill="#1F3140" font-weight="bold" stroke="#1F3140" stroke-width="1.2">H</tspan><tspan x="292.22" textLength="81.67" lengthAdjust="spacingAndGlyphs" fill="#1F3140" font-weight="bold" stroke="#1F3140" stroke-width="1.2">O</tspan><tspan x="374.08" textLength="80.45" lengthAdjust="spacingAndGlyphs" fill="#1F3140" font-weight="bold" stroke="#1F3140" stroke-width="1.2">O</tspan><tspan x="456.84" textLength="49.87" lengthAdjust="spacingAndGlyphs" fill="#1F3140" font-weight="bold" stroke="#1F3140" stroke-width="1.2">L</tspan><tspan x="511.14" textLength="60.41" lengthAdjust="spacingAndGlyphs" fill="#1F3140" font-weight="bold" stroke="#1F3140" stroke-width="1.2">S</tspan> <tspan x="601.40" textLength="27.19" lengthAdjust="spacingAndGlyphs" fill="#1F3140" font-weight="bold" stroke="#1F3140" stroke-width="1.2">I</tspan><tspan x="632.31" textLength="73.06" lengthAdjust="spacingAndGlyphs" fill="#1F3140" font-weight="bold" stroke="#1F3140" stroke-width="1.2">N</tspan> <tspan x="732.32" textLength="67.57" lengthAdjust="spacingAndGlyphs" fill="#1F3140" font-weight="bold" stroke="#1F3140" stroke-width="1.2">Y</tspan><tspan x="797.98" textLength="80.56" lengthAdjust="spacingAndGlyphs" fill="#1F3140" font-weight="bold" stroke="#1F3140" stroke-width="1.2">O</tspan><tspan x="879.59" textLength="72.02" lengthAdjust="spacingAndGlyphs" fill="#1F3140" font-weight="bold" stroke="#1F3140" stroke-width="1.2">U</tspan><tspan x="957.28" textLength="62.28" lengthAdjust="spacingAndGlyphs" fill="#1F3140" font-weight="bold" stroke="#1F3140" stroke-width="1.2">R</tspan> <tspan x="1048.53" textLength="76.93" lengthAdjust="spacingAndGlyphs" fill="#1F3140" font-weight="bold" stroke="#1F3140" stroke-width="1.2">A</tspan><tspan x="1127.53" textLength="60.39" lengthAdjust="spacingAndGlyphs" fill="#1F3140" font-weight="bold" stroke="#1F3140" stroke-width="1.2">R</tspan><tspan x="1194.47" textLength="57.64" lengthAdjust="spacingAndGlyphs" fill="#1F3140" font-weight="bold" stroke="#1F3140" stroke-width="1.2">E</tspan><tspan x="1256.42" textLength="70.03" lengthAdjust="spacingAndGlyphs" fill="#1F3140" font-weight="bold" stroke="#1F3140" stroke-width="1.2">A</tspan></text>
<text y="400.5" font-size="42"><tspan x="79.60" textLength="73.58" lengthAdjust="spacingAndGlyphs" fill="#1F2A33">The</tspan> <tspan x="165.84" textLength="178.46" lengthAdjust="spacingAndGlyphs" fill="#1F2A33">assigned</tspan> <tspan x="355.84" textLength="150.51" lengthAdjust="spacingAndGlyphs" fill="#1F2A33">schools</tspan> <tspan x="520.36" textLength="62.84" lengthAdjust="spacingAndGlyphs" fill="#1F2A33">are</tspan> <tspan x="595.88" textLength="124.42" lengthAdjust="spacingAndGlyphs" fill="#D34A27" font-weight="bold">above</tspan> <tspan x="732.96" textLength="164.75" lengthAdjust="spacingAndGlyphs" fill="#D34A27" font-weight="bold">average</tspan> <tspan x="910.60" textLength="51.09" lengthAdjust="spacingAndGlyphs" fill="#1F2A33">for</tspan> <tspan x="976.20" textLength="62.35" lengthAdjust="spacingAndGlyphs" fill="#1F2A33">the</tspan> <tspan x="1051.15" textLength="100.61" lengthAdjust="spacingAndGlyphs" fill="#1F2A33">area.</tspan> <tspan x="1163.00" textLength="114.62" lengthAdjust="spacingAndGlyphs" fill="#1F2A33">There</tspan> <tspan x="1290.24" textLength="64.09" lengthAdjust="spacingAndGlyphs" fill="#1F2A33">are</tspan></text>
<text y="444.5" font-size="42"><tspan x="78.57" textLength="79.64" lengthAdjust="spacingAndGlyphs" fill="#1F2A33">also</tspan> <tspan x="170.75" textLength="53.82" lengthAdjust="spacingAndGlyphs" fill="#D34A27" font-weight="bold">22</tspan> <tspan x="236.85" textLength="135.30" lengthAdjust="spacingAndGlyphs" fill="#1F2A33">private</tspan> <tspan x="384.74" textLength="150.62" lengthAdjust="spacingAndGlyphs" fill="#1F2A33">schools</tspan> <tspan x="551.36" textLength="114.14" lengthAdjust="spacingAndGlyphs" fill="#1F2A33">within</tspan> <tspan x="678.14" textLength="24.84" lengthAdjust="spacingAndGlyphs" fill="#D34A27" font-weight="bold">5</tspan> <tspan x="716.28" textLength="116.00" lengthAdjust="spacingAndGlyphs" fill="#1F2A33">miles.</tspan></text>
<text y="675.0" font-size="72"><tspan x="112.24" textLength="104.47" lengthAdjust="spacingAndGlyphs" fill="#179BB8">K-5</tspan></text>
<text y="910.0" font-size="72"><tspan x="111.08" textLength="108.18" lengthAdjust="spacingAndGlyphs" fill="#0C6890">6-8</tspan></text>
<text y="1145.0" font-size="72"><tspan x="98.35" textLength="131.93" lengthAdjust="spacingAndGlyphs" fill="#D04423">9-12</tspan></text>
<text y="620.0" font-size="48.5"><tspan x="287.68" textLength="318.82" lengthAdjust="spacingAndGlyphs" fill="#ffffff" stroke="#089EC4" stroke-width="0.8">CREIGHTON&#x27;S</tspan> <tspan x="621.41" textLength="198.50" lengthAdjust="spacingAndGlyphs" fill="#ffffff" stroke="#089EC4" stroke-width="0.8">CORNER</tspan></text>
<text y="674.2" font-size="48.5"><tspan x="288.26" textLength="306.67" lengthAdjust="spacingAndGlyphs" fill="#ffffff" stroke="#089EC4" stroke-width="0.8">ELEMENTARY</tspan> <tspan x="610.73" textLength="202.24" lengthAdjust="spacingAndGlyphs" fill="#ffffff" stroke="#089EC4" stroke-width="0.8">SCHOOL</tspan></text>
<text y="855.0" font-size="48.5"><tspan x="287.67" textLength="160.23" lengthAdjust="spacingAndGlyphs" fill="#ffffff" stroke="#06678F" stroke-width="0.8">STONE</tspan> <tspan x="461.90" textLength="98.94" lengthAdjust="spacingAndGlyphs" fill="#ffffff" stroke="#06678F" stroke-width="0.8">HILL</tspan> <tspan x="574.49" textLength="177.51" lengthAdjust="spacingAndGlyphs" fill="#ffffff" stroke="#06678F" stroke-width="0.8">MIDDLE</tspan></text>
<text y="909.2" font-size="48.5"><tspan x="287.62" textLength="203.15" lengthAdjust="spacingAndGlyphs" fill="#ffffff" stroke="#06678F" stroke-width="0.8">SCHOOL</tspan></text>
<text y="1090.0" font-size="48.5"><tspan x="288.25" textLength="133.08" lengthAdjust="spacingAndGlyphs" fill="#ffffff" stroke="#D7421D" stroke-width="0.8">ROCK</tspan> <tspan x="435.73" textLength="142.02" lengthAdjust="spacingAndGlyphs" fill="#ffffff" stroke="#D7421D" stroke-width="0.8">RIDGE</tspan> <tspan x="591.61" textLength="120.80" lengthAdjust="spacingAndGlyphs" fill="#ffffff" stroke="#D7421D" stroke-width="0.8">HIGH</tspan></text>
<text y="1144.2" font-size="48.5"><tspan x="287.62" textLength="203.15" lengthAdjust="spacingAndGlyphs" fill="#ffffff" stroke="#D7421D" stroke-width="0.8">SCHOOL</tspan></text>
<text y="714.0" font-size="34"><tspan x="289.60" textLength="164.56" lengthAdjust="spacingAndGlyphs" fill="#ffffff" stroke="#089EC4" stroke-width="0.5">ASSIGNED</tspan></text>
<text y="949.0" font-size="34"><tspan x="289.60" textLength="164.56" lengthAdjust="spacingAndGlyphs" fill="#ffffff" stroke="#06678F" stroke-width="0.5">ASSIGNED</tspan></text>
<text y="1184.0" font-size="34"><tspan x="289.60" textLength="164.56" lengthAdjust="spacingAndGlyphs" fill="#ffffff" stroke="#D7421D" stroke-width="0.5">ASSIGNED</tspan></text>
<text y="651.0" font-size="85"><tspan x="951.29" textLength="49.00" lengthAdjust="spacingAndGlyphs" fill="#FFFBE0" stroke="#F2CB05" stroke-width="2.2">8</tspan></text>
<text y="886.0" font-size="85"><tspan x="951.29" textLength="49.00" lengthAdjust="spacingAndGlyphs" fill="#FFFBE0" stroke="#F2CB05" stroke-width="2.2">8</tspan></text>
<text y="1121.0" font-size="85"><tspan x="951.29" textLength="49.00" lengthAdjust="spacingAndGlyphs" fill="#FFFBE0" stroke="#F2CB05" stroke-width="2.2">9</tspan></text>
<text y="698.7" font-size="36.3"><tspan x="909.73" textLength="132.26" lengthAdjust="spacingAndGlyphs" fill="#FFFBE0" stroke="#F2CB05" stroke-width="0.5">RATING</tspan></text>
<text y="933.7" font-size="36.3"><tspan x="909.73" textLength="132.26" lengthAdjust="spacingAndGlyphs" fill="#FFFBE0" stroke="#F2CB05" stroke-width="0.5">RATING</tspan></text>
<text y="1168.7" font-size="36.3"><tspan x="909.73" textLength="132.26" lengthAdjust="spacingAndGlyphs" fill="#FFFBE0" stroke="#F2CB05" stroke-width="0.5">RATING</tspan></text>
<text y="808.0" font-size="73"><tspan x="1667.40" textLength="87.23" lengthAdjust="spacingAndGlyphs" fill="#ffffff" stroke="#D7421D" stroke-width="1.6">1.5</tspan></text>
<text y="863.6" font-size="51"><tspan x="1640.23" textLength="144.17" lengthAdjust="spacingAndGlyphs" fill="#ffffff" stroke="#D7421D" stroke-width="1">MILES</tspan></text>
<text y="983.0" font-size="56"><tspan x="1446.91" textLength="81.33" lengthAdjust="spacingAndGlyphs" fill="#ffffff" stroke="#089EC4" stroke-width="1.2">0.8</tspan></text>
<text y="1024.5" font-size="36.5"><tspan x="1433.59" textLength="106.42" lengthAdjust="spacingAndGlyphs" fill="#ffffff" stroke="#089EC4" stroke-width="0.7">MILES</tspan></text>
<text y="1134.7" font-size="55"><tspan x="1290.47" textLength="73.83" lengthAdjust="spacingAndGlyphs" fill="#ffffff" stroke="#06678F" stroke-width="1.2">0.7</tspan></text>
<text y="1172.9" font-size="32.5"><tspan x="1280.74" textLength="90.59" lengthAdjust="spacingAndGlyphs" fill="#ffffff" stroke="#06678F" stroke-width="0.6">MILES</tspan></text>
<text y="1467.3" font-size="46"><tspan x="138.82" textLength="246.54" lengthAdjust="spacingAndGlyphs" fill="#4A4A48">ListReports</tspan></text>

<!-- disclaimer -->
<g filter="url(#sh)">
<text y="1450.6" font-size="28"><tspan x="584.94" textLength="175.68" lengthAdjust="spacingAndGlyphs" fill="#ffffff" font-weight="bold">DISCLAIMER:</tspan> <tspan x="767.55" textLength="89.52" lengthAdjust="spacingAndGlyphs" fill="#ffffff">School</tspan> <tspan x="866.09" textLength="54.98" lengthAdjust="spacingAndGlyphs" fill="#ffffff">data</tspan> <tspan x="931.93" textLength="17.65" lengthAdjust="spacingAndGlyphs" fill="#ffffff">is</tspan> <tspan x="960.02" textLength="116.39" lengthAdjust="spacingAndGlyphs" fill="#ffffff">provided</tspan> <tspan x="1085.01" textLength="29.39" lengthAdjust="spacingAndGlyphs" fill="#ffffff">by</tspan> <tspan x="1124.60" textLength="97.55" lengthAdjust="spacingAndGlyphs" fill="#ffffff">ATTOM</tspan> <tspan x="1230.09" textLength="59.38" lengthAdjust="spacingAndGlyphs" fill="#ffffff">Data</tspan> <tspan x="1300.16" textLength="119.88" lengthAdjust="spacingAndGlyphs" fill="#ffffff">Solutions</tspan> <tspan x="1429.15" textLength="49.21" lengthAdjust="spacingAndGlyphs" fill="#ffffff">and</tspan> <tspan x="1487.05" textLength="73.72" lengthAdjust="spacingAndGlyphs" fill="#ffffff">agent</tspan> <tspan x="1571.10" textLength="123.96" lengthAdjust="spacingAndGlyphs" fill="#ffffff">selection.</tspan> <tspan x="1701.01" textLength="17.05" lengthAdjust="spacingAndGlyphs" fill="#ffffff">It</tspan> <tspan x="1727.43" textLength="19.53" lengthAdjust="spacingAndGlyphs" fill="#ffffff">is</tspan> <tspan x="1755.00" textLength="118.54" lengthAdjust="spacingAndGlyphs" fill="#ffffff">intended</tspan></text>
<text y="1480.7" font-size="28"><tspan x="585.20" textLength="32.02" lengthAdjust="spacingAndGlyphs" fill="#ffffff">for</tspan> <tspan x="628.34" textLength="125.06" lengthAdjust="spacingAndGlyphs" fill="#ffffff">reference</tspan> <tspan x="763.08" textLength="58.34" lengthAdjust="spacingAndGlyphs" fill="#ffffff">only.</tspan> <tspan x="830.95" textLength="101.62" lengthAdjust="spacingAndGlyphs" fill="#ffffff">Contact</tspan> <tspan x="943.00" textLength="37.96" lengthAdjust="spacingAndGlyphs" fill="#ffffff">the</tspan> <tspan x="992.80" textLength="85.49" lengthAdjust="spacingAndGlyphs" fill="#ffffff">school</tspan> <tspan x="1086.19" textLength="25.14" lengthAdjust="spacingAndGlyphs" fill="#ffffff">or</tspan> <tspan x="1120.15" textLength="84.62" lengthAdjust="spacingAndGlyphs" fill="#ffffff">district</tspan> <tspan x="1215.24" textLength="93.86" lengthAdjust="spacingAndGlyphs" fill="#ffffff">directly</tspan> <tspan x="1320.50" textLength="22.04" lengthAdjust="spacingAndGlyphs" fill="#ffffff">to</tspan> <tspan x="1353.30" textLength="70.20" lengthAdjust="spacingAndGlyphs" fill="#ffffff">verify</tspan> <tspan x="1432.93" textLength="140.44" lengthAdjust="spacingAndGlyphs" fill="#ffffff">enrollment</tspan> <tspan x="1581.31" textLength="121.32" lengthAdjust="spacingAndGlyphs" fill="#ffffff">eligibility.</tspan></text>
</g>

<!-- image edge lines -->
<rect x="0" y="1535" width="1987" height="1" fill="#000" fill-opacity="0.42"/>
<rect x="1986" y="0" width="1" height="1535" fill="#000" fill-opacity="0.42"/>

<!-- bright MLS watermark -->
<rect x="0" y="1454" width="250" height="82" fill="#5F5F5F"/>
<text y="1508.8" font-size="58" style="font-family:'Liberation Serif',serif"><tspan x="18.20" textLength="129.35" lengthAdjust="spacingAndGlyphs" fill="#DCDCDC" font-weight="bold" stroke="#5F5F5F" stroke-width="1.1">brigh</tspan></text>
<text y="1508.8" font-size="27.6"><tspan x="176.74" textLength="21.41" lengthAdjust="spacingAndGlyphs" fill="#DCDCDC">M</tspan><tspan x="202.72" textLength="12.16" lengthAdjust="spacingAndGlyphs" fill="#DCDCDC">L</tspan><tspan x="219.03" textLength="14.18" lengthAdjust="spacingAndGlyphs" fill="#DCDCDC">S</tspan></text>
<path d="M150.4,1488.8 L155.9,1488.8 L155.9,1500 Q156,1504.6 160.2,1504.6 Q163,1504.6 165.3,1503.4 L166,1505.8 Q161.8,1509.8 157,1509.6 Q150.4,1509.2 150.4,1500.5 Z" fill="#DCDCDC"/>
<path d="M154.3,1474.2 C155.6,1479.6 158.2,1481.9 165.9,1483.3 C158.2,1484.3 155.6,1485.4 154.3,1488 C153,1485.4 151,1484.3 145.3,1483.3 C151,1481.9 153,1479.6 154.3,1474.2 Z" fill="#E0512B"/>
<text x="166" y="1473.3" font-size="5.8" font-weight="bold" fill="#DCDCDC" textLength="8.4" lengthAdjust="spacingAndGlyphs">TM</text>
</svg>
</body>
</html>
